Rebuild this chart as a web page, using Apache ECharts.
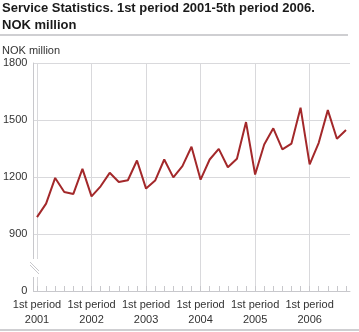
<!DOCTYPE html>
<html><head><meta charset="utf-8">
<script src="https://cdn.jsdelivr.net/npm/echarts@6/dist/echarts.min.js"></script>
<style>html,body{margin:0;padding:0;background:#fff}#c{width:359px;height:332px}</style>
</head><body><div id="c"></div>
<script>
const years = ['2001', '2002', '2003', '2004', '2005', '2006'];
const periods = ['1st period', '2nd period', '3rd period', '4th period', '5th period', '6th period'];
const categories = [];
years.forEach(function (y) { periods.forEach(function (p) { categories.push(p + '\n' + y); }); });
const shownCategories = categories.slice(0, 35);
const values = [
  989, 1060, 1195, 1121, 1111, 1243,
  1098, 1151, 1222, 1174, 1183, 1287,
  1139, 1181, 1292, 1198, 1257, 1359,
  1186, 1292, 1348, 1251, 1296, 1489,
  1213, 1371, 1456, 1345, 1376, 1565,
  1266, 1380, 1552, 1401, 1447
];
const yMin = 600, yMax = 1800, yStep = 300; // 600 position shown as "0" (broken axis)
const yBreakLabel = '0';

const FONT = '"Liberation Sans", Arial, sans-serif';
const gridColor = '#d9d9dc';
const chart = echarts.init(document.getElementById('c'), null, {renderer: 'canvas'});
chart.setOption({
  animation: false,
  backgroundColor: '#fff',
  textStyle: {fontFamily: FONT},
  title: [
    {text: 'Service Statistics. 1st period 2001-5th period 2006.\nNOK million', left: 2, top: 0, padding: 0,
     textStyle: {fontFamily: FONT, fontSize: 13, fontWeight: 'bold', color: '#1a1a1a', lineHeight: 17}},
    {text: 'NOK million', left: 2, top: 44, padding: 0,
     textStyle: {fontFamily: FONT, fontSize: 11, fontWeight: 'normal', color: '#333', lineHeight: 13}}
  ],
  grid: [
    {left: 33, right: 9, top: 63, bottom: 41},
    {left: 37, right: 13, top: 63, bottom: 41}
  ],
  xAxis: [
    {gridIndex: 0, type: 'value', min: 0, max: 1, axisLine: {show: true, lineStyle: {color: '#c8c8cc', width: 1}},
     axisTick: {show: false}, axisLabel: {show: false}, splitLine: {show: false}},
    {gridIndex: 1, type: 'category', boundaryGap: false, data: shownCategories,
     axisLine: {show: false},
     axisTick: {show: true, inside: true, length: 5, interval: 0, lineStyle: {color: '#c8c8cc'}},
     axisLabel: {interval: function (i) { return i % 6 === 0; }, color: '#333', fontSize: 11, lineHeight: 15, margin: 6, fontFamily: FONT},
     splitLine: {show: true, interval: function (i) { return i % 6 === 0; }, lineStyle: {color: gridColor, width: 1}}}
  ],
  yAxis: [
    {gridIndex: 0, type: 'value', min: yMin, max: yMax, interval: yStep,
     axisLine: {show: true, lineStyle: {color: '#c8c8cc'}}, axisTick: {show: false},
     axisLabel: {color: '#333', fontSize: 11, margin: 6, fontFamily: FONT,
       formatter: function (v) { return v === yMin ? yBreakLabel : String(v); }},
     splitLine: {show: true, lineStyle: {color: gridColor, width: 1}}},
    {gridIndex: 1, type: 'value', min: yMin, max: yMax, interval: yStep, show: false}
  ],
  series: [{
    type: 'line', xAxisIndex: 1, yAxisIndex: 1, data: values,
    symbol: 'none', lineStyle: {color: '#a3282a', width: 2}, z: 5
  }],
  graphic: [
    {type: 'rect', shape: {x: 0, y: 34, width: 348, height: 2}, style: {fill: '#cfcfd2'}, silent: true},
    {type: 'rect', shape: {x: 0, y: 329, width: 359, height: 2}, style: {fill: '#cfcfd2'}, silent: true},
    {type: 'rect', shape: {x: 30, y: 259, width: 9, height: 18}, style: {fill: '#fff'}, z: 10, silent: true},
    {type: 'line', shape: {x1: 30, y1: 262, x2: 39, y2: 271}, style: {stroke: '#c8c8cc', lineWidth: 1}, z: 11, silent: true},
    {type: 'line', shape: {x1: 30, y1: 265, x2: 39, y2: 274}, style: {stroke: '#c8c8cc', lineWidth: 1}, z: 11, silent: true}
  ]
});
</script></body></html>
